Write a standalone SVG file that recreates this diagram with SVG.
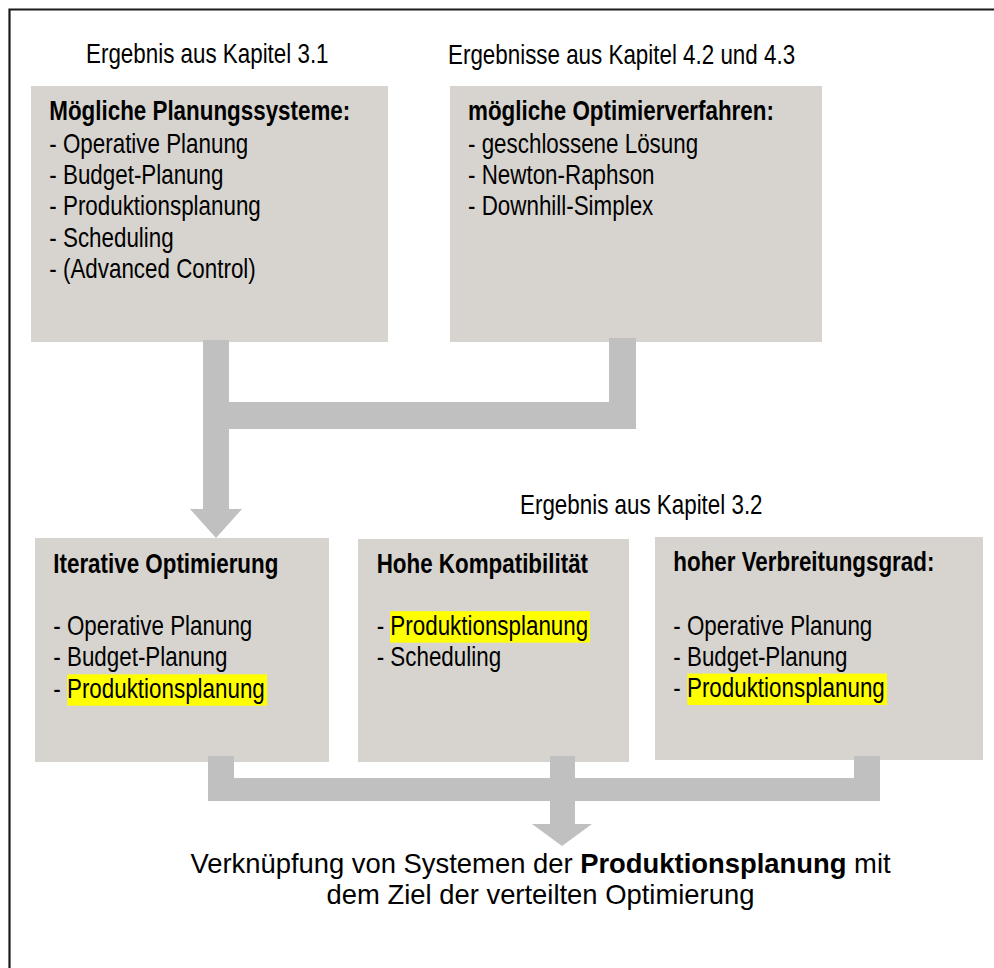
<svg xmlns="http://www.w3.org/2000/svg" width="994" height="968" viewBox="0 0 994 968">
  <style>
    .frame { fill: none; stroke: #1a1a1a; stroke-width: 2.2; }
    .box { fill: #d7d4cf; }
    .conn { fill: #c0c0c0; }
    .hl { fill: #ffff00; }
    /* narrow face emulated by a horizontal scale on each line */
    .t { font-family: "Liberation Sans", Arial, sans-serif; font-size: 27.3px; fill: #000; }
    .b { font-weight: bold; }
    .foot { font-family: "Liberation Sans", Arial, sans-serif; font-size: 27.4px; fill: #000; text-anchor: middle; }
  </style>

  <path class="frame" d="M9.5,968 V9.5 H994"/>

  <!-- source captions -->
  <g id="caption-kap31"><text class="t" transform="matrix(0.82 0 0 1 86 63)">Ergebnis aus Kapitel 3.1</text></g>
  <g id="caption-kap42"><text class="t" transform="matrix(0.82 0 0 1 448 63.5)">Ergebnisse aus Kapitel 4.2 und 4.3</text></g>
  <g id="caption-kap32"><text class="t" transform="matrix(0.82 0 0 1 520 514)">Ergebnis aus Kapitel 3.2</text></g>

  <!-- top row -->
  <g id="planungssysteme">
    <rect class="box" x="31" y="86" width="357" height="256"/>
    <text class="t b" transform="matrix(0.82 0 0 1 49.3 120)">Mögliche Planungssysteme:</text>
    <text class="t" transform="matrix(0.82 0 0 1 49.3 153)">- Operative Planung</text>
    <text class="t" transform="matrix(0.82 0 0 1 49.3 184.2)">- Budget-Planung</text>
    <text class="t" transform="matrix(0.82 0 0 1 49.3 215.4)">- Produktionsplanung</text>
    <text class="t" transform="matrix(0.82 0 0 1 49.3 246.6)">- Scheduling</text>
    <text class="t" transform="matrix(0.82 0 0 1 49.3 277.8)">- (Advanced Control)</text>
  </g>

  <g id="optimierverfahren">
    <rect class="box" x="450" y="86" width="372" height="256"/>
    <text class="t b" transform="matrix(0.82 0 0 1 468 120)">mögliche Optimierverfahren:</text>
    <text class="t" transform="matrix(0.82 0 0 1 468 153)">- geschlossene Lösung</text>
    <text class="t" transform="matrix(0.82 0 0 1 468 184.2)">- Newton-Raphson</text>
    <text class="t" transform="matrix(0.82 0 0 1 468 215.4)">- Downhill-Simplex</text>
  </g>

  <!-- second row -->
  <g id="iterative-optimierung">
    <rect class="box" x="35" y="538" width="294" height="224"/>
    <rect class="hl" x="67.3" y="674.3" width="199.7" height="31.4"/>
    <text class="t b" transform="matrix(0.82 0 0 1 53.3 573)">Iterative Optimierung</text>
    <text class="t" transform="matrix(0.82 0 0 1 53.3 635)">- Operative Planung</text>
    <text class="t" transform="matrix(0.82 0 0 1 53.3 666.3)">- Budget-Planung</text>
    <text class="t" transform="matrix(0.82 0 0 1 53.3 697.8)">- Produktionsplanung</text>
  </g>

  <g id="hohe-kompatibilitaet">
    <rect class="box" x="358" y="539" width="271" height="223"/>
    <rect class="hl" x="390" y="611.2" width="200" height="31.4"/>
    <text class="t b" transform="matrix(0.82 0 0 1 376.7 573)">Hohe Kompatibilität</text>
    <text class="t" transform="matrix(0.82 0 0 1 376.7 635)">- Produktionsplanung</text>
    <text class="t" transform="matrix(0.82 0 0 1 376.7 666.3)">- Scheduling</text>
  </g>

  <g id="verbreitungsgrad">
    <rect class="box" x="655" y="537" width="328" height="223"/>
    <rect class="hl" x="687.3" y="673.6" width="199.7" height="31.4"/>
    <text class="t b" transform="matrix(0.82 0 0 1 673.3 571)">hoher Verbreitungsgrad:</text>
    <text class="t" transform="matrix(0.82 0 0 1 673.3 635)">- Operative Planung</text>
    <text class="t" transform="matrix(0.82 0 0 1 673.3 666.3)">- Budget-Planung</text>
    <text class="t" transform="matrix(0.82 0 0 1 673.3 697.3)">- Produktionsplanung</text>
  </g>

  <!-- conclusion -->
  <g id="ergebnis">
    <text class="foot" x="540.5" y="872.5">Verknüpfung von Systemen der <tspan font-weight="bold">Produktionsplanung</tspan> mit</text>
    <text class="foot" x="540.5" y="904">dem Ziel der verteilten Optimierung</text>
  </g>

  <!-- connectors: merging block arrows -->
  <g id="connectors">
    <path class="conn" d="M203,340 H229 V402 H609 V338 H636 V429 H229 V509 H242 L216,538 L190,509 H203 Z"/>
    <path class="conn" d="M208,756 H234 V778 H550 V756 H575 V778 H854 V756 H880 V801 H575 V824 H592 L562,846 L532,824 H550 V801 H208 Z"/>
  </g>
</svg>
